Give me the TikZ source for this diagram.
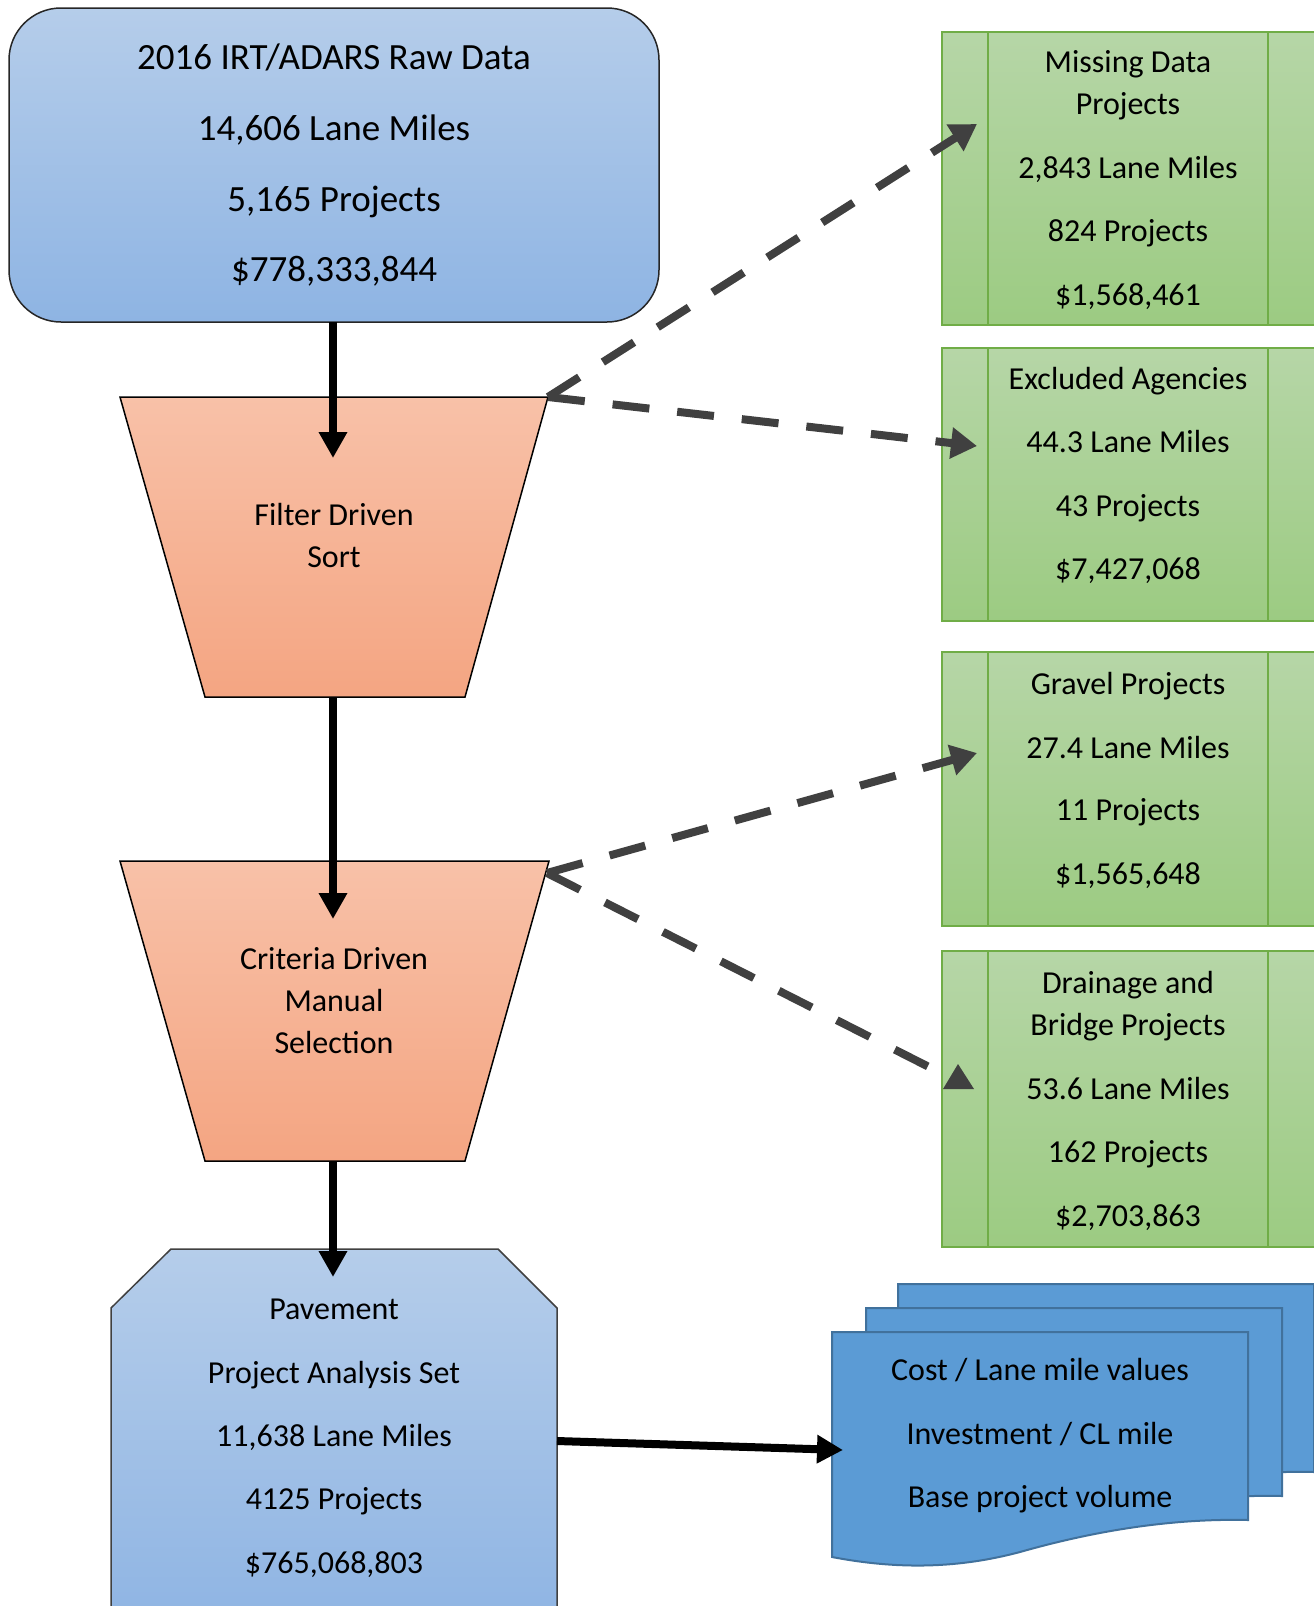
\documentclass[tikz,border=0pt]{standalone}
\usepackage{fontspec}
\setmainfont{Carlito}
\usetikzlibrary{arrows.meta}
\definecolor{btop}{HTML}{B5CDEA}
\definecolor{bbot}{HTML}{8EB4E3}
\definecolor{ptop}{HTML}{F8C1A8}
\definecolor{pbot}{HTML}{F4A582}
\definecolor{gtop}{HTML}{B6D6A7}
\definecolor{gbot}{HTML}{9CCB82}
\definecolor{gedge}{HTML}{70AD47}
\definecolor{dfill}{HTML}{5B9BD5}
\definecolor{dedge}{HTML}{41719C}
\definecolor{dgray}{HTML}{404040}
\begin{document}
\begin{tikzpicture}[x=1pt,y=-1pt,
  bigtxt/.style={anchor=base, font=\fontsize{37}{44}\selectfont, inner sep=0pt},
  txt/.style={anchor=base, font=\fontsize{32}{38}\selectfont, inner sep=0pt},
  bluebox/.style={top color=btop, bottom color=bbot, draw=black!85, line width=1.5pt},
  peachbox/.style={top color=ptop, bottom color=pbot, draw=black, line width=1.5pt},
  greenbox/.style={top color=gtop, bottom color=gbot, draw=gedge, line width=1.5pt},
  docpage/.style={fill=dfill, draw=dedge, line width=2pt},
  solidarrow/.style={line width=8pt, -{Triangle[width=27pt,length=26pt]}},
  dasharrow/.style={draw=dgray, line width=8pt, dash pattern=on 37pt off 28pt},
  dashtip/.style={dasharrow, -{Triangle[width=30pt,length=26pt]}}]
\useasboundingbox (0,0) rectangle (1314,1606);
\clip (0,0) rectangle (1314,1606);

% ---------- top rounded box ----------
\path[bluebox, rounded corners=52pt] (9,8) rectangle (659,322);
\node[bigtxt] (r1) at (334,69) {2016 IRT/ADARS Raw Data};
\node[bigtxt] (r2) at (334,140) {14,606 Lane Miles};
\node[bigtxt] (r3) at (334,211) {5,165 Projects};
\node[bigtxt] (r4) at (334,281) {\$778,333,844};
\coordinate (rawS) at (333,322);

% ---------- trapezoid 1 ----------
\path[peachbox] (120,397) -- (548,397) -- (465,697) -- (205,697) -- cycle;
\node[txt] (f1) at (334,525) {Filter Driven};
\node[txt] (f2) at (334,567) {Sort};
\coordinate (filtN) at (333,458);
\coordinate (filtS) at (333,697);
\coordinate (filtC) at (548,397);

% ---------- trapezoid 2 ----------
\path[peachbox] (120,861) -- (549,861) -- (465,1161) -- (205,1161) -- cycle;
\node[txt] (c1) at (334,969) {Criteria Driven};
\node[txt] (c2) at (334,1011) {Manual};
\node[txt] (c3) at (334,1053) {Selection};
\coordinate (critN) at (333,919);
\coordinate (critS) at (333,1161);
\coordinate (critC) at (547,873);

% ---------- octagon ----------
\path[bluebox, draw=black!75] (171,1249) -- (498,1249) -- (557,1308) -- (557,1630) -- (111,1630) -- (111,1308) -- cycle;
\node[txt] (p1) at (334,1319) {Pavement};
\node[txt] (p2) at (334,1383) {Project Analysis Set};
\node[txt] (p3) at (334,1446) {11,638 Lane Miles};
\node[txt] (p4) at (334,1509) {4125 Projects};
\node[txt] (p5) at (334,1573) {\$765,068,803};
\coordinate (pavN) at (333,1277);
\coordinate (pavE) at (557,1441);

% ---------- green boxes ----------
\path[greenbox] (942,32) rectangle (1318,325);
\draw[gedge, line width=1.5pt] (988,32) -- (988,325) (1268,32) -- (1268,325);
\node[txt] (m1) at (1128,72) {Missing Data};
\node[txt] (m2) at (1128,114) {Projects};
\node[txt] (m3) at (1128,178) {2,843 Lane Miles};
\node[txt] (m4) at (1128,241) {824 Projects};
\node[txt] (m5) at (1128,305) {\$1,568,461};
\coordinate (missW) at (977,124);

\path[greenbox] (942,348) rectangle (1318,621);
\draw[gedge, line width=1.5pt] (988,348) -- (988,621) (1268,348) -- (1268,621);
\node[txt] (e1) at (1128,389) {Excluded Agencies};
\node[txt] (e2) at (1128,452) {44.3 Lane Miles};
\node[txt] (e3) at (1128,516) {43 Projects};
\node[txt] (e4) at (1128,579) {\$7,427,068};
\coordinate (exclW) at (977,446);

\path[greenbox] (942,652) rectangle (1318,926);
\draw[gedge, line width=1.5pt] (988,652) -- (988,926) (1268,652) -- (1268,926);
\node[txt] (g1) at (1128,694) {Gravel Projects};
\node[txt] (g2) at (1128,758) {27.4 Lane Miles};
\node[txt] (g3) at (1128,820) {11 Projects};
\node[txt] (g4) at (1128,884) {\$1,565,648};
\coordinate (gravW) at (977,753);

\path[greenbox] (942,951) rectangle (1318,1247);
\draw[gedge, line width=1.5pt] (988,951) -- (988,1247) (1268,951) -- (1268,1247);
\node[txt] (d1) at (1128,993) {Drainage and};
\node[txt] (d2) at (1128,1035) {Bridge Projects};
\node[txt] (d3) at (1128,1099) {53.6 Lane Miles};
\node[txt] (d4) at (1128,1162) {162 Projects};
\node[txt] (d5) at (1128,1226) {\$2,703,863};
\coordinate (drainW) at (931,1068);

% ---------- multi-document ----------
\begin{scope}[shift={(66,-48)}]
\path[docpage] (832,1332) -- (1248,1332) -- (1248,1520) .. controls (1160,1518) and (1080,1535) .. (1020,1552) .. controls (960,1568) and (900,1570) .. (832,1557) -- cycle;
\end{scope}
\begin{scope}[shift={(34,-24)}]
\path[docpage] (832,1332) -- (1248,1332) -- (1248,1520) .. controls (1160,1518) and (1080,1535) .. (1020,1552) .. controls (960,1568) and (900,1570) .. (832,1557) -- cycle;
\end{scope}
\path[docpage] (832,1332) -- (1248,1332) -- (1248,1520) .. controls (1160,1518) and (1080,1535) .. (1020,1552) .. controls (960,1568) and (900,1570) .. (832,1557) -- cycle;
\node[txt] (o1) at (1040,1380) {Cost / Lane mile values};
\node[txt] (o2) at (1040,1444) {Investment / CL mile};
\node[txt] (o3) at (1040,1507) {Base project volume};
\coordinate (docW) at (843,1450);

% ---------- connectors ----------
\draw[solidarrow] (rawS) -- (filtN);
\draw[solidarrow] (filtS) -- (critN);
\draw[solidarrow] (critS) -- (pavN);
\draw[solidarrow] (pavE) -- (docW);

\draw[dashtip] (filtC) -- (missW);
\draw[dashtip] (filtC) -- (exclW);
\draw[dashtip] (critC) -- (gravW);
\draw[dasharrow] (critC) -- (drainW);
\path[fill=dgray] (943,1089) -- (958,1064) -- (974,1089) -- cycle;
\end{tikzpicture}
\end{document}
